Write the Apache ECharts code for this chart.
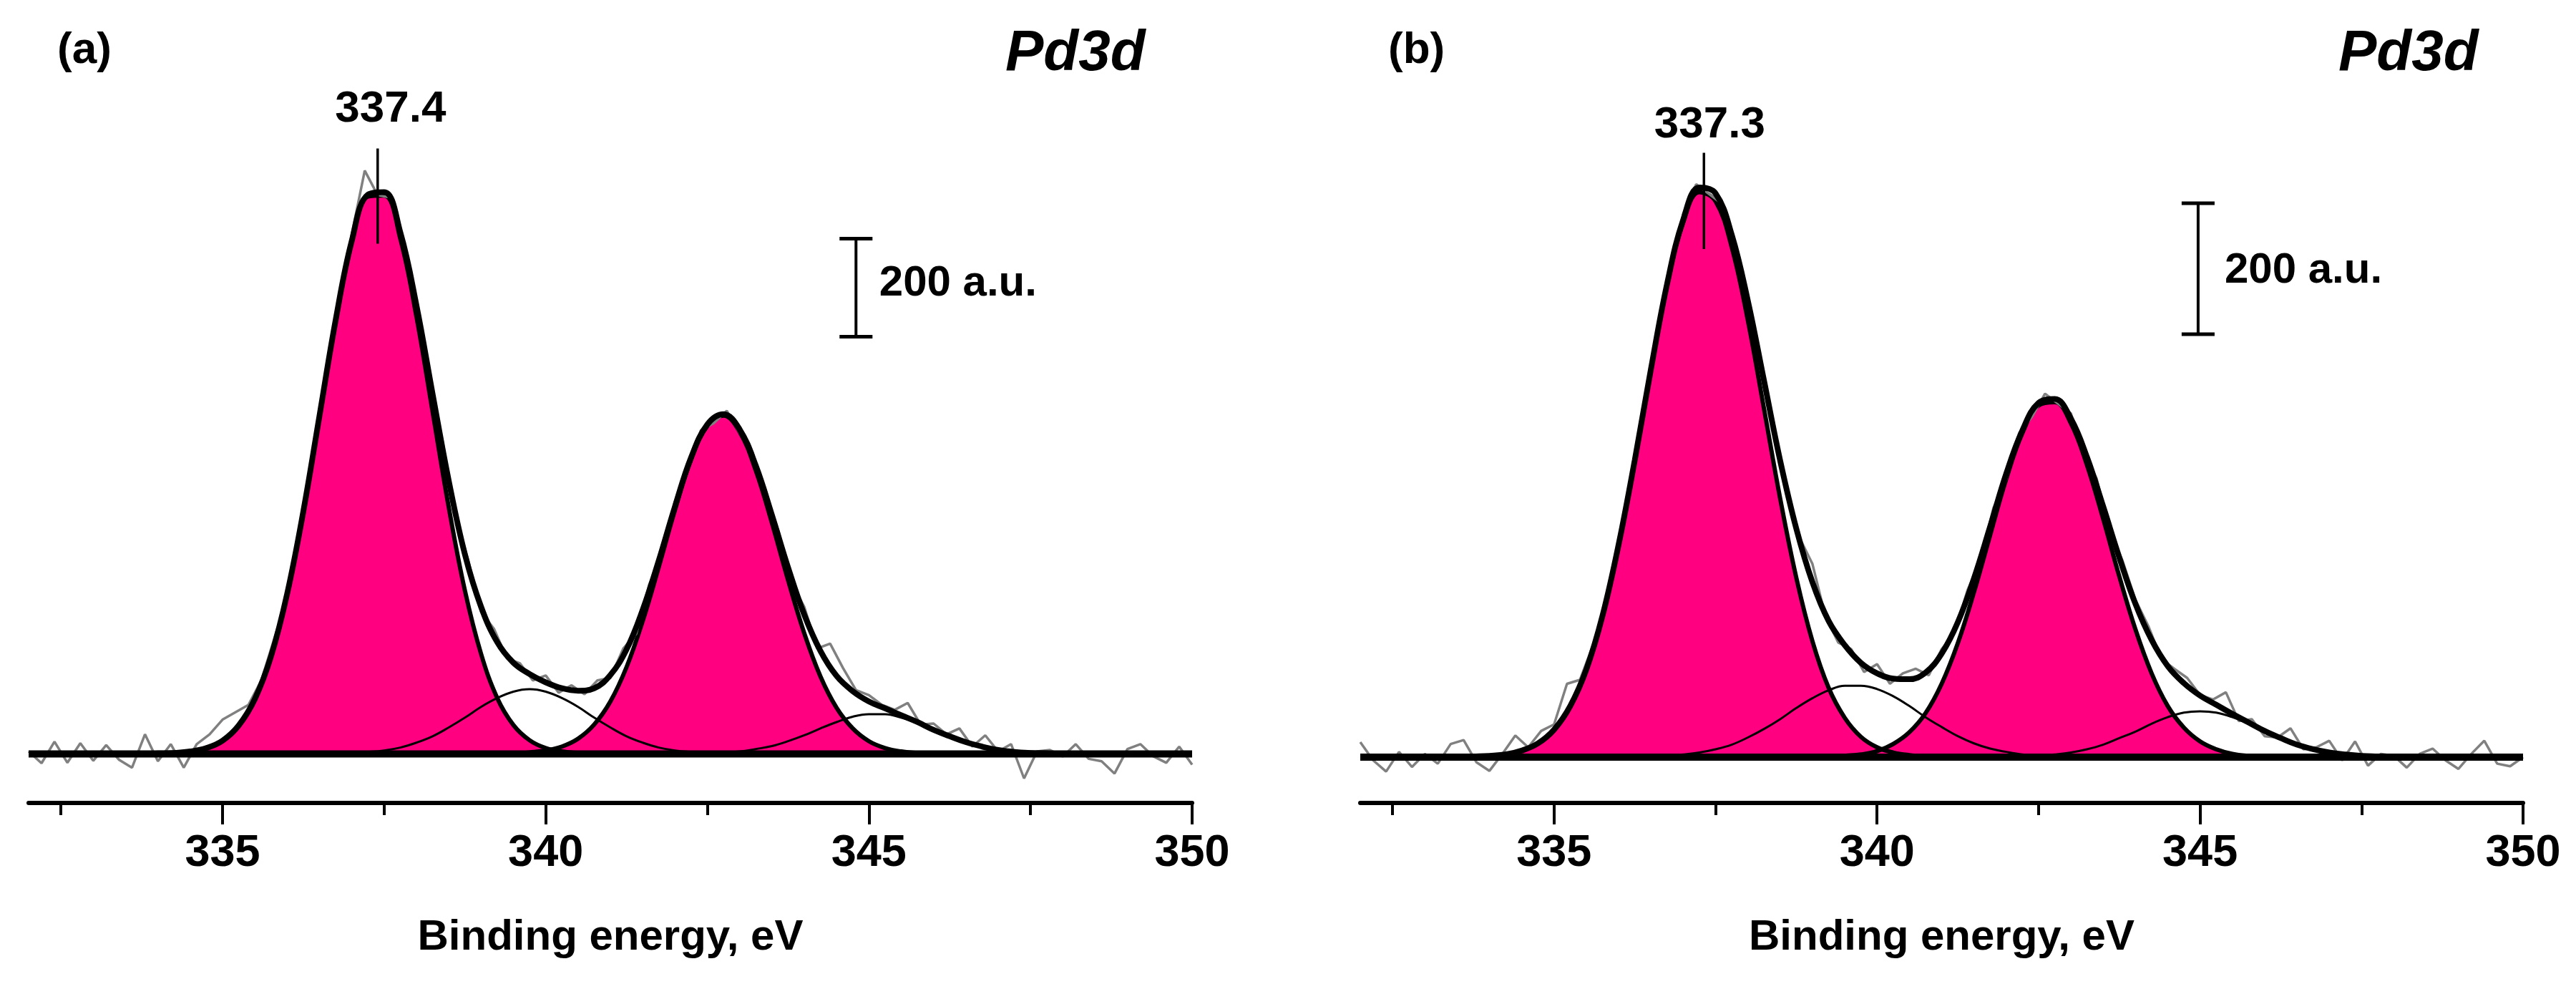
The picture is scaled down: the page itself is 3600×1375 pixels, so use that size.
<!DOCTYPE html>
<html>
<head>
<meta charset="utf-8">
<script src="https://cdn.jsdelivr.net/npm/echarts@6/dist/echarts.min.js"></script>
<style>
html,body{margin:0;padding:0;background:#fff;}
#chart{width:3600px;height:1375px;}
</style>
</head>
<body>
<div id="chart"></div>
<script>
// ---------- data (binding energy grids, eV) ----------
const E25 = [332,332.25,332.5,332.75,333,333.25,333.5,333.75,334,334.25,334.5,334.75,335,335.25,335.5,335.75,336,336.25,336.5,336.75,337,337.25,337.5,337.75,338,338.25,338.5,338.75,339,339.25,339.5,339.75,340,340.25,340.5,340.75,341,341.25,341.5,341.75,342,342.25,342.5,342.75,343,343.25,343.5,343.75,344,344.25,344.5,344.75,345,345.25,345.5,345.75,346,346.25,346.5,346.75,347,347.25,347.5,347.75,348,348.25,348.5,348.75,349,349.25,349.5,349.75,350];
const E20 = [332,332.2,332.4,332.6,332.8,333,333.2,333.4,333.6,333.8,334,334.2,334.4,334.6,334.8,335,335.2,335.4,335.6,335.8,336,336.2,336.4,336.6,336.8,337,337.2,337.4,337.6,337.8,338,338.2,338.4,338.6,338.8,339,339.2,339.4,339.6,339.8,340,340.2,340.4,340.6,340.8,341,341.2,341.4,341.6,341.8,342,342.2,342.4,342.6,342.8,343,343.2,343.4,343.6,343.8,344,344.2,344.4,344.6,344.8,345,345.2,345.4,345.6,345.8,346,346.2,346.4,346.6,346.8,347,347.2,347.4,347.6,347.8,348,348.2,348.4,348.6,348.8,349,349.2,349.4,349.6,349.8,350];

// x-axis ticks / labels
const majorTicks = [335,340,345,350];
const minorTicks = [332.5,337.5,342.5,347.5];

// ---------- panel (a) ----------
const A_P1 = [0,0,0,0,0,0,0,0, 1,2,5,12, 27,58,112,199, 327,495,690,885, 1045,1137,1139,1051, 892,698,503,333, 204,114,59,28, 12,5,2,0,
  0,0,0,0,0,0,0,0,0,0,0,0,0,0,0,0,0,0,0,0,0,0,0,0,0,0,0,0,0,0,0,0,0,0,0,0,0];
const A_P2 = [0,0,0,0,0,0,0,0,0,0,0,0,0,0,0,0,0,0,0,0,0,0,0,0,0,0,0,0,0,0,0, 3, 7,15,31,60, 107,177,271,382, 498,601,669,690, 657,578,471,354, 246,158,94,52, 26,12,5,2,
  0,0,0,0,0,0,0,0,0,0,0,0,0,0,0,0,0];
const A_S3 = [0,0,0,0,0,0,0,0,0,0,0,0,0,0,0,0,0,0,0,0, 2,4,7,13, 23,36,54,74, 96,114,127,132, 127,114,96,74, 54,36,23,13, 7,4,2,
  0,0,0,0,0,0,0,0,0,0,0,0,0,0,0,0,0,0,0,0,0,0,0,0,0,0,0,0,0,0];
const A_S4 = [0,0,0,0,0,0,0,0,0,0,0,0,0,0,0,0,0,0,0,0,0,0,0,0,0,0,0,0,0,0,0,0,0,0,0,0,0,0,0,0,0,0, 1,3, 5,10,16,26, 38,52,65,76, 81,81,74,63, 49,36,24,15, 8,4,2,1, 0,0,0,0,0,0,0,0,0];
const A_ENV = [0,0,0,0,0,0,0,0, 1,2,5,12, 27,58,112,199, 327,495,690,885, 1047,1141,1146,1064, 915,734,557,407, 300,228,186,163, 146,134,129,134, 161,213,294,395, 505,605,672,693, 662,588,487,380, 284,210,159,128, 107,93,79,65, 49,36,24,15, 8,4,2,1, 0,0,0,0,0,0,0,0,0];
const A_RAW = [5,-19,25,-18,22, -14,18,-12,-28,40, -15,20,-28,20,40, 70,85,100,150,235, 320,470,605,785,915, 1060,1190,1140,1135,1030, 925,760,640,490,395, 290,255,195,185,150, 160,125,140,122,150, 155,215,245,345,410, 515,580,660,675,700, 655,615,520,455,350, 300,215,225,175,130, 120,100,90,104,60, 62,40,52,15,38, 5,20,-50,5,8, -5,20,-10,-15,-40, 10,20,-5,-18,15, -22];

// ---------- panel (b) ----------
const B_P1 = [0,0,0,0,0,0,0,1, 2,4,10,21, 42,78,134,216, 325,454,593,721, 817,863,849,779, 667,532,395,274, 177,106,60,31, 15,7,3,1,
  0,0,0,0,0,0,0,0,0,0,0,0,0,0,0,0,0,0,0,0,0,0,0,0,0,0,0,0,0,0,0,0,0,0,0,0,0];
const B_P2 = [0,0,0,0,0,0,0,0,0,0,0,0,0,0,0,0,0,0,0,0,0,0,0,0,0,0,0,0,0,0, 2,4, 9,20,38,67, 112,174,252,339, 425,495,537,542, 510,446,364,276, 195,128,78,45, 24,12,5,2, 1,
  0,0,0,0,0,0,0,0,0,0,0,0,0,0,0,0];
const B_S3 = [0,0,0,0,0,0,0,0,0,0,0,0,0,0,0,0,0,0,0, 2, 4,7,12,19, 30,43,58,75, 90,102,109,109, 104,93,78,61, 46,32,21,13, 8,4,2,1,
  0,0,0,0,0,0,0,0,0,0,0,0,0,0,0,0,0,0,0,0,0,0,0,0,0,0,0,0,0];
const B_S4 = [0,0,0,0,0,0,0,0,0,0,0,0,0,0,0,0,0,0,0,0,0,0,0,0,0,0,0,0,0,0,0,0,0,0,0,0,0,0,0,0,0,0, 2,4, 7,12,19,29, 39,51,61,68, 70,68,61,51, 39,29,19,12, 7,4,2,1, 0,0,0,0,0,0,0,0,0];
const B_ENV = [0,0,0,0,0,0,0,1, 2,4,10,21, 42,78,134,216, 325,454,593,723, 821,870,861,798, 697,575,453,349, 267,208,171,144, 128,120,119,129, 158,206,273,352, 433,499,541,547, 517,458,383,305, 234,179,139,113, 94,80,66,53, 40,29,19,12, 7,4,2,1, 0,0,0,0,0,0,0,0,0];
const B_RAW = [23,-5,-22,8,-15, 5,-10,20,26,-8, -21,5,33,15,40, 50,112,118,170,230, 330,420,540,655,740, 830,875,860,845,775, 705,595,510,400,335, 295,215,175,165,130, 142,112,128,135,125, 165,190,255,300,380, 425,495,520,555,540, 525,465,425,345,300, 240,200,150,135,121, 95,88,99,55,58, 32,30,44,12,15, 25,-5,24,-13,5, 2,-16,5,13,-5, -18,5,25,-10,-14, 0];

// annotations (values in data units)
const panels = [
  {tag:'(a)', peakLabel:'337.4', peakE:337.4, peakTop:1235, peakBot:1041, labelE:337.6, labelY:1315,
   barE:344.8, barLo:851, barHi:1051, barTextE:345.16, barTextY:959, yMin:-100, yMax:1500,
   p1:A_P1, p2:A_P2, s3:A_S3, s4:A_S4, env:A_ENV, raw:A_RAW},
  {tag:'(b)', peakLabel:'337.3', peakE:337.32, peakTop:923, peakBot:776, labelE:337.41, labelY:965,
   barE:344.97, barLo:646, barHi:846, barTextE:345.38, barTextY:743, yMin:-70, yMax:1128,
   p1:B_P1, p2:B_P2, s3:B_S3, s4:B_S4, env:B_ENV, raw:B_RAW}
];

const FONT = "'Liberation Sans', Arial, sans-serif";
const PINK = '#FF0080';

function pairs(xs, ys){ return xs.map((x,i)=>[x, ys[i]]); }

const grids = [
  {left:40, top:26, width:1626, height:1096},
  {left:1901, top:26, width:1625, height:1096}
];

const xAxes = [], yAxes = [], series = [];
panels.forEach((p, i) => {
  xAxes.push({
    type:'value', gridIndex:i, min:332, max:350, position:'bottom',
    name:'Binding energy, eV', nameLocation:'middle', nameGap:158,
    nameTextStyle:{fontFamily:FONT, fontWeight:'bold', fontSize:60, color:'#000'},
    axisLine:{show:true, onZero:false, lineStyle:{color:'#000', width:6}},
    axisTick:{show:true, inside:false, length:30, lineStyle:{color:'#000', width:4}, customValues:majorTicks},
    axisLabel:{show:true, margin:39, fontFamily:FONT, fontWeight:'bold', fontSize:63, color:'#000', customValues:majorTicks},
    splitLine:{show:false}
  });
  xAxes.push({
    type:'value', gridIndex:i, min:332, max:350, position:'bottom',
    axisLine:{show:false, onZero:false},
    axisTick:{show:true, inside:false, length:17, lineStyle:{color:'#000', width:4}, customValues:minorTicks},
    axisLabel:{show:false}, splitLine:{show:false}
  });
  yAxes.push({type:'value', gridIndex:i, min:p.yMin, max:p.yMax, show:false});

  const base = {type:'line', xAxisIndex:2*i, yAxisIndex:i, symbol:'none', silent:true};
  series.push(
    Object.assign({}, base, {name:'Pd3d5/2', data:pairs(E25,p.p1), smooth:0.4, z:2,
      lineStyle:{color:'#000', width:6}, areaStyle:{color:PINK, opacity:1, origin:'auto'}}),
    Object.assign({}, base, {name:'Pd3d3/2', data:pairs(E25,p.p2), smooth:0.4, z:2,
      lineStyle:{color:'#000', width:6}, areaStyle:{color:PINK, opacity:1, origin:'auto'}}),
    Object.assign({}, base, {name:'raw', data:pairs(E20,p.raw), z:3,
      lineStyle:{color:'#808080', width:3.5}}),
    Object.assign({}, base, {name:'sat1', data:pairs(E25,p.s3), smooth:0.4, z:4,
      lineStyle:{color:'#000', width:3}}),
    Object.assign({}, base, {name:'sat2', data:pairs(E25,p.s4), smooth:0.4, z:4,
      lineStyle:{color:'#000', width:3}}),
    Object.assign({}, base, {name:'envelope', data:pairs(E25,p.env), smooth:0.4, z:5,
      lineStyle:{color:'#000', width:8}}),
    Object.assign({}, base, {name:'baseline', data:[[332,0],[350,0]], z:6,
      lineStyle:{color:'#000', width:10}}),
    Object.assign({}, base, {name:'peakmark', data:[[p.peakE,p.peakTop],[p.peakE,p.peakBot]], z:7,
      lineStyle:{color:'#000', width:3.5}}),
    Object.assign({}, base, {name:'bar', data:[[p.barE,p.barLo],[p.barE,p.barHi]], z:7,
      lineStyle:{color:'#000', width:4}}),
    Object.assign({}, base, {name:'barcap1', data:[[p.barE-0.255,p.barLo],[p.barE+0.255,p.barLo]], z:7,
      lineStyle:{color:'#000', width:5}}),
    Object.assign({}, base, {name:'barcap2', data:[[p.barE-0.255,p.barHi],[p.barE+0.255,p.barHi]], z:7,
      lineStyle:{color:'#000', width:5}})
  );
});

const chart = echarts.init(document.getElementById('chart'), null, {renderer:'canvas'});
chart.setOption({
  animation:false,
  backgroundColor:'#ffffff',
  grid:grids,
  xAxis:xAxes,
  yAxis:yAxes,
  series:series
});

// text annotations placed through the axes' own scales
const graphics = [
  {type:'text', left:80, top:40, style:{text:'(a)', font:"bold 62px 'Liberation Sans', Arial, sans-serif", fill:'#000'}},
  {type:'text', left:1940, top:40, style:{text:'(b)', font:"bold 62px 'Liberation Sans', Arial, sans-serif", fill:'#000'}},
  {type:'text', left:1405, top:36, style:{text:'Pd3d', font:"italic bold 80px 'Liberation Sans', Arial, sans-serif", fill:'#000'}},
  {type:'text', left:3268, top:36, style:{text:'Pd3d', font:"italic bold 80px 'Liberation Sans', Arial, sans-serif", fill:'#000'}}
];
panels.forEach((p, i) => {
  const finder = {xAxisIndex:2*i, yAxisIndex:i};
  const lp = chart.convertToPixel(finder, [p.labelE, p.labelY]);
  const bp = chart.convertToPixel(finder, [p.barTextE, p.barTextY]);
  graphics.push({type:'text', x:lp[0], y:lp[1], z:100,
    style:{text:p.peakLabel, font:"bold 62px 'Liberation Sans', Arial, sans-serif", fill:'#000', align:'center', verticalAlign:'middle'}});
  graphics.push({type:'text', x:bp[0], y:bp[1], z:100,
    style:{text:'200 a.u.', font:"bold 60px 'Liberation Sans', Arial, sans-serif", fill:'#000', align:'left', verticalAlign:'middle'}});
});
chart.setOption({graphic:graphics});
</script>
</body>
</html>
